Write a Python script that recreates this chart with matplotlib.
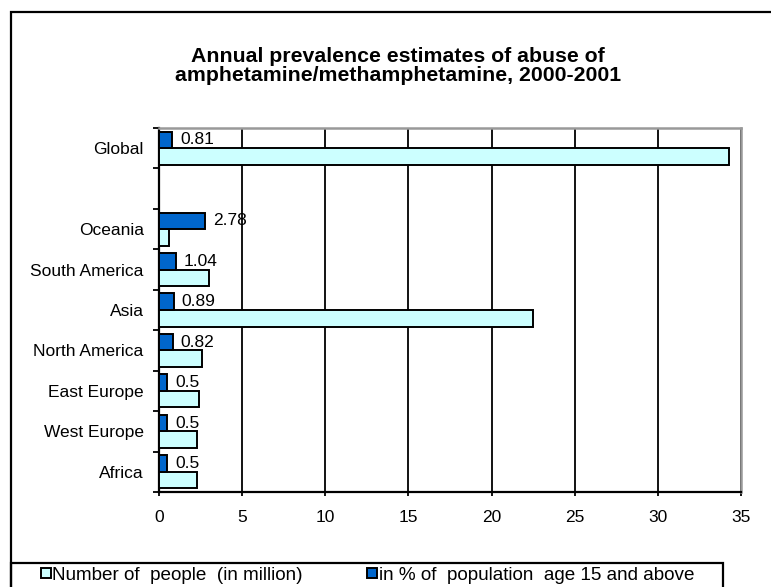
import matplotlib
matplotlib.use('Agg')
import matplotlib.pyplot as plt
from matplotlib.patches import Rectangle
import numpy as np

# ---- data ----
categories = ['Africa', 'West Europe', 'East Europe', 'North America', 'Asia',
              'South America', 'Oceania', '', 'Global']
people_million = [2.3, 2.3, 2.4, 2.6, 22.5, 3.0, 0.6, None, 34.3]
percent_pop = [0.5, 0.5, 0.5, 0.82, 0.89, 1.04, 2.78, None, 0.81]
x_ticks = [0, 5, 10, 15, 20, 25, 30, 35]
title_lines = ['Annual prevalence estimates of abuse of',
               'amphetamine/methamphetamine, 2000-2001']
legend_labels = ['Number of  people  (in million)', 'in % of  population  age 15 and above']

# ---- style ----
W, H = 771, 587
plt.rcParams['font.family'] = ['Liberation Sans', 'DejaVu Sans']
col_people = '#CCFFFF'
col_pct = '#0066CC'

fig = plt.figure(figsize=(W / 100, H / 100), dpi=100)

def fx(px):
    return px / W

def fy(py):
    return 1 - py / H

# outer frame
fig.patches.append(Rectangle((fx(11), fy(700)), fx(900) - fx(11), fy(12) - fy(700),
                             transform=fig.transFigure, fill=False, lw=1.6,
                             edgecolor='black', clip_on=False))

ax = fig.add_axes([fx(159), fy(492), fx(741) - fx(159), fy(128) - fy(492)])

ypos = np.arange(len(categories))
idx = [i for i, v in enumerate(people_million) if v is not None]
ppl = [people_million[i] for i in idx]
pct = [percent_pop[i] for i in idx]
yv = np.array(idx, dtype=float)
bh = 0.41
ax.barh(yv - bh / 2, ppl, height=bh, color=col_people, edgecolor='black', lw=1.4, zorder=3)
ax.barh(yv + bh / 2, pct, height=bh, color=col_pct, edgecolor='black', lw=1.4, zorder=3)

for yi, v in zip(yv, pct):
    ax.annotate(f'{v:g}', xy=(v, yi + bh / 2), xytext=(5.5, 0), textcoords='offset points',
                va='center', ha='left', fontsize=12.5, zorder=4)

ax.set_xlim(0, 35)
ax.set_ylim(-0.5, len(categories) - 0.5)
ax.set_xticks(x_ticks)
ax.set_xticklabels([str(t) for t in x_ticks], fontsize=12.5)
ax.tick_params(axis='x', length=3, width=1.3, direction='out', pad=10)

ax.set_yticks(np.arange(-0.5, len(categories), 1.0))
ax.set_yticklabels([])
ax.tick_params(axis='y', which='major', length=4, width=1.3, direction='out')
ax.set_yticks(ypos, minor=True)
ax.set_yticklabels(categories, minor=True, fontsize=12.5)
ax.tick_params(axis='y', which='minor', length=0, pad=11)

ax.grid(axis='x', color='black', lw=1.3)
ax.grid(axis='y', visible=False)
ax.set_axisbelow(True)
for s in ['top', 'right']:
    ax.spines[s].set_color('#999999')
    ax.spines[s].set_linewidth(1.8)
for s in ['left', 'bottom']:
    ax.spines[s].set_color('black')
    ax.spines[s].set_linewidth(1.6)

fig.text(fx(398), fy(61.5), title_lines[0], ha='center', va='baseline', fontsize=15.3,
         fontweight='bold')
fig.text(fx(398), fy(81), title_lines[1], ha='center', va='baseline', fontsize=15.3,
         fontweight='bold')

# legend box
fig.patches.append(Rectangle((fx(11), fy(700)), fx(723) - fx(11), fy(563) - fy(700),
                             transform=fig.transFigure, fill=False, lw=1.6,
                             edgecolor='black', clip_on=False))
for (mx, tx, c, lab) in [(41, 52, col_people, legend_labels[0]),
                         (367, 379, col_pct, legend_labels[1])]:
    fig.patches.append(Rectangle((fx(mx), fy(578)), fx(mx + 10) - fx(mx), fy(568) - fy(578),
                                 transform=fig.transFigure, facecolor=c,
                                 edgecolor='black', lw=1.4))
    fig.text(fx(tx), fy(579.5), lab, ha='left', va='baseline', fontsize=13.6)

fig.savefig('out.png', dpi=100)
